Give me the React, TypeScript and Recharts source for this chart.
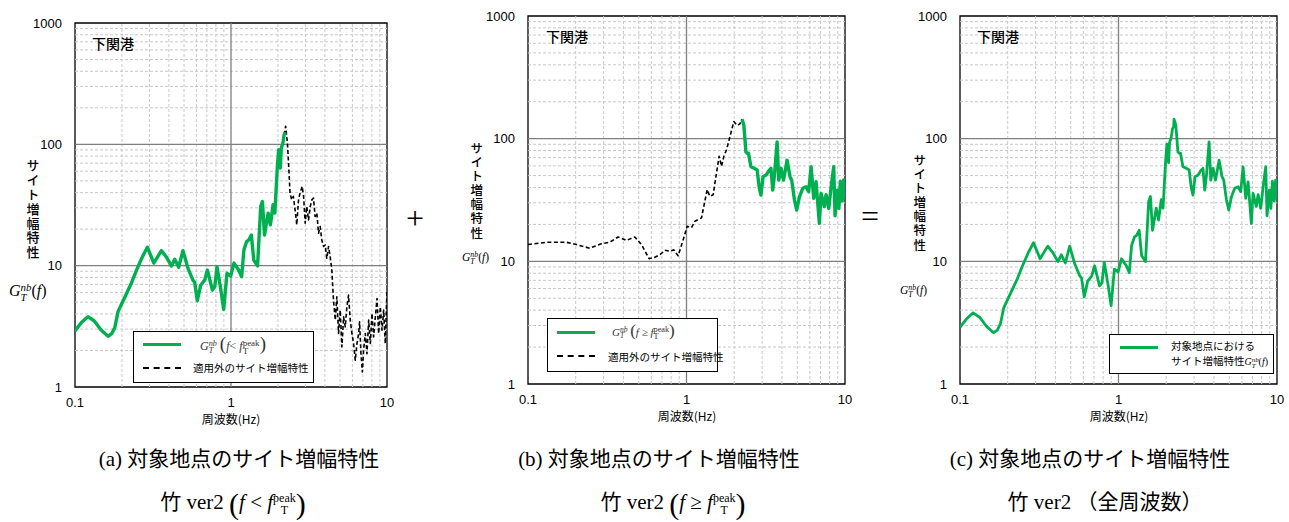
import React from 'react';
import { LineChart, Line, XAxis, YAxis, ReferenceLine, ReferenceArea } from 'recharts';

// ---- data ----
const lowFreq = [0.1, 0.11, 0.121, 0.133, 0.147, 0.163, 0.172, 0.18, 0.189, 0.2, 0.214, 0.23, 0.248, 0.27, 0.291, 0.32, 0.358, 0.385, 0.415, 0.436, 0.462, 0.492, 0.53, 0.57, 0.585, 0.608, 0.639, 0.678, 0.706, 0.76, 0.787, 0.813, 0.855, 0.898, 0.942, 0.995, 1.045, 1.12, 1.17, 1.21, 1.26, 1.3, 1.35, 1.4, 1.48, 1.55, 1.59, 1.64, 1.73, 1.79, 1.86, 1.91, 1.98, 2.02, 2.07, 2.1, 2.15, 2.19, 2.23];
const lowGain = [2.9, 3.4, 3.8, 3.5, 2.95, 2.62, 2.75, 3.1, 4.2, 4.9, 5.9, 7.2, 9.2, 11.8, 14.2, 10.5, 13.3, 11.8, 9.95, 11.3, 9.7, 13.3, 9.5, 7.6, 7.3, 5.14, 6.9, 7.6, 9.2, 6.3, 6.7, 9.8, 6.7, 4.36, 8.65, 8.2, 10.5, 9.2, 8.1, 13.5, 15.8, 16.3, 17.9, 11.1, 9.95, 30.7, 33.8, 17.9, 27.1, 21.7, 31.8, 27.1, 63.8, 90.4, 63.8, 93, 102, 120, 126];

const highFreq = [2.24, 2.3, 2.34, 2.37, 2.43, 2.46, 2.55, 2.68, 2.79, 2.88, 2.95, 3.04, 3.18, 3.3, 3.41, 3.5, 3.59, 3.73, 3.82, 3.95, 4.09, 4.2, 4.31, 4.5, 4.61, 4.8, 4.96, 5.16, 5.41, 5.68, 5.9, 6.11, 6.35, 6.57, 6.89, 7.06, 7.4, 7.6, 7.9, 8.2, 8.49, 8.65, 8.95, 9.15, 9.35, 9.6, 9.8, 10];
const highGain = [144, 129, 97, 78, 75.8, 76, 59, 57.3, 55.5, 39.4, 34.7, 48.9, 50.5, 54.7, 57.3, 38.1, 50.5, 94, 45.9, 57.3, 45.9, 55, 66.8, 49, 45.9, 31.6, 26.2, 33.6, 39.4, 40.5, 37, 59, 32.6, 44.5, 20.4, 35.8, 28, 35, 27, 42, 59, 23.5, 38, 27, 45, 31, 46, 32];

const aDashFreq = [2.19, 2.24, 2.3, 2.35, 2.39, 2.45, 2.51, 2.59, 2.64, 2.71, 2.77, 2.86, 2.92, 2.99, 3.06, 3.14, 3.22, 3.3, 3.38, 3.46, 3.55, 3.64, 3.73, 3.82, 3.92, 4.02, 4.11, 4.22, 4.32, 4.43, 4.54, 4.66, 4.77, 4.89, 5.01, 5.14, 5.27, 5.4, 5.53, 5.67, 5.81, 5.96, 6.11, 6.26, 6.42, 6.58, 6.67, 6.81, 6.95, 7.08, 7.26, 7.44, 7.63, 7.82, 8.01, 8.21, 8.42, 8.63, 8.84, 9.06, 9.29, 9.52, 9.75, 10];
const aDashGain = [120, 141, 102, 62, 39.6, 34.9, 37.2, 27.1, 21.7, 34.9, 39.6, 45, 37.2, 22.4, 30.7, 23.8, 30.7, 34.9, 36, 25.4, 27.1, 18.5, 21, 16.3, 14.4, 14.8, 11.5, 14.4, 11.9, 9.2, 5.2, 3.56, 5.55, 2.76, 4.3, 2.14, 3.79, 3.13, 4.58, 5.72, 3.56, 2.76, 2.28, 1.66, 2.28, 2.76, 3.44, 1.88, 1.33, 2.01, 2.76, 1.88, 3.56, 2.28, 4.04, 2.59, 3.79, 5.37, 2.76, 4.58, 2.94, 4.3, 2.28, 6.3];

const bDashFreq = [0.1, 0.131, 0.175, 0.202, 0.245, 0.29, 0.328, 0.37, 0.418, 0.472, 0.52, 0.581, 0.631, 0.679, 0.73, 0.785, 0.832, 0.885, 0.953, 1.01, 1.076, 1.129, 1.244, 1.286, 1.351, 1.404, 1.473, 1.546, 1.607, 1.663, 1.72, 1.79, 1.88, 1.99, 2.09, 2.17, 2.24];
const bDashGain = [13.7, 14.3, 14.3, 13.7, 12.8, 13.9, 14.3, 15.8, 14.8, 15.8, 13.7, 10.5, 10.8, 11.3, 12.3, 12.1, 12.4, 11.1, 15, 19.3, 18.8, 21.2, 22.6, 28.1, 38.4, 33.9, 34.9, 52.5, 71.8, 59.5, 71.8, 81.3, 104, 138, 128, 132, 144];

const xTicks = [0.1, 1, 10];
const yTicks = [1, 10, 100, 1000];
const minorX = [0.2, 0.3, 0.4, 0.5, 0.6, 0.7, 0.8, 0.9, 2, 3, 4, 5, 6, 7, 8, 9];
const minorY = [2, 3, 4, 5, 6, 7, 8, 9, 20, 30, 40, 50, 60, 70, 80, 90, 200, 300, 400, 500, 600, 700, 800, 900];
const majorX = [1];
const majorY = [10, 100];

const toPts = (fs: number[], gs: number[]) => fs.map((f, i) => ({ f, g: gs[i] }));
const lowPts = toPts(lowFreq, lowGain);
const highPts = toPts(highFreq, highGain);
const allPts = [...lowPts, ...highPts];
const aDashPts = toPts(aDashFreq, aDashGain);
const bDashPts = toPts(bDashFreq, bDashGain);

const GREEN = '#00b050';
const SANS = '"Liberation Sans", Arial, "Noto Sans CJK JP", sans-serif';
const JP = '"Noto Sans CJK JP", "Liberation Sans", sans-serif';
const SERIF = '"Liberation Serif", "DejaVu Serif", "Noto Sans CJK JP", serif';

type PanelProps = {
  left: number; width: number; height: number;
  margin: { top: number; right: number; bottom: number; left: number };
  yw: number;
  series: { pts: { f: number; g: number }[]; dashed?: boolean; w: number; key: string }[];
};

function Panel({ left, width, height, margin, yw, series }: PanelProps) {
  const tick = { fontFamily: SANS, fontSize: 13, fill: '#000' };
  return (
    <div style={{ position: 'absolute', left, top: 0 }}>
      <LineChart width={width} height={height} margin={margin}>
        <XAxis type="number" dataKey="f" scale="log" domain={[0.1, 10]} ticks={xTicks} allowDataOverflow
          tickLine={false} axisLine={false} tick={tick} tickMargin={5} height={30} interval={0} />
        <YAxis type="number" dataKey="g" scale="log" domain={[1, 1000]} ticks={yTicks} allowDataOverflow
          tickLine={false} axisLine={false} tick={tick} tickMargin={7} width={yw} interval={0} />
        {minorX.map((v) => (
          <ReferenceLine key={'mx' + v} x={v} stroke="#c8c8c8" strokeDasharray="3 2" strokeWidth={1} />
        ))}
        {minorY.map((v) => (
          <ReferenceLine key={'my' + v} y={v} stroke="#c8c8c8" strokeDasharray="3 2" strokeWidth={1} />
        ))}
        {majorX.map((v) => (
          <ReferenceLine key={'Mx' + v} x={v} stroke="#7f7f7f" strokeWidth={1.3} />
        ))}
        {majorY.map((v) => (
          <ReferenceLine key={'My' + v} y={v} stroke="#7f7f7f" strokeWidth={1.3} />
        ))}
        {series.map((s) => (
          <Line key={s.key} data={s.pts} dataKey="g" type="linear" stroke={s.dashed ? '#000' : GREEN}
            strokeWidth={s.w} strokeDasharray={s.dashed ? '4 2.5' : undefined} dot={false}
            isAnimationActive={false} strokeLinejoin="round" />
        ))}
        <ReferenceArea x1={0.1} x2={10} y1={1} y2={1000} fill="none" stroke="#000" strokeWidth={1.3} ifOverflow="visible" />
      </LineChart>
    </div>
  );
}

function G({ size }: { size: number }) {
  return (
    <span style={{ fontFamily: SERIF, fontStyle: 'italic', fontSize: size, whiteSpace: 'nowrap' }}>
      G
      <span style={{ display: 'inline-flex', flexDirection: 'column', fontSize: size * 0.68, lineHeight: 0.9, verticalAlign: 'middle' }}>
        <span>nb</span><span>T</span>
      </span>
    </span>
  );
}

function PeakF({ size }: { size: number }) {
  return (
    <span style={{ fontFamily: SERIF, fontSize: size, whiteSpace: 'nowrap' }}>
      <i>f</i>
      <span style={{ display: 'inline-flex', flexDirection: 'column', fontSize: size * 0.75, lineHeight: 0.95, verticalAlign: 'middle', fontStyle: 'normal' }}>
        <span>peak</span><span>T</span>
      </span>
    </span>
  );
}

function YLabel({ x, y, size, ls, gx, gy, gsize }: { x: number; y: number; size: number; ls: number; gx: number; gy: number; gsize: number }) {
  return (
    <>
      <div style={{ position: 'absolute', left: x - size / 2, top: y, fontFamily: JP, fontSize: size, lineHeight: `${size}px`, fontWeight: 500, writingMode: 'vertical-rl', textOrientation: 'upright', letterSpacing: ls, whiteSpace: 'nowrap' }}>
        サイト増幅特性
      </div>
      <div style={{ position: 'absolute', left: gx, top: gy, lineHeight: 1 }}>
        <G size={gsize} /><span style={{ fontFamily: SERIF, fontSize: gsize }}>(<i>f</i>)</span>
      </div>
    </>
  );
}

function abs(l: number, t: number, extra: React.CSSProperties = {}): React.CSSProperties {
  return { position: 'absolute', left: l, top: t, ...extra };
}

export default function App() {
  const titleStyle: React.CSSProperties = { fontFamily: JP, fontSize: 14, fontWeight: 500, lineHeight: '16px' };
  const xlab: React.CSSProperties = { fontFamily: JP, fontSize: 12, lineHeight: '12px', width: 120, textAlign: 'center' };
  const cap: React.CSSProperties = { fontFamily: SERIF, fontSize: 21, lineHeight: '24px', width: 420, textAlign: 'center', whiteSpace: 'nowrap' };
  const legText: React.CSSProperties = { fontFamily: JP, fontSize: 10.5, lineHeight: '12px', whiteSpace: 'nowrap' };
  const bigParen: React.CSSProperties = { fontSize: 30, verticalAlign: 'middle', fontWeight: 200 };
  return (
    <div style={{ position: 'absolute', left: 0, top: 0, width: 1289, height: 522, background: '#fff', overflow: 'hidden' }}>
      <Panel left={0} width={400} height={420} margin={{ top: 23, right: 13, bottom: 3, left: 0 }} yw={75}
        series={[{ key: 'ad', pts: aDashPts, dashed: true, w: 1.6 }, { key: 'al', pts: lowPts, w: 3.4 }]} />
      <Panel left={450} width={410} height={420} margin={{ top: 16, right: 15, bottom: 6, left: 0 }} yw={78}
        series={[{ key: 'bd', pts: bDashPts, dashed: true, w: 1.6 }, { key: 'bh', pts: highPts, w: 3.4 }]} />
      <Panel left={880} width={409} height={420} margin={{ top: 16, right: 12, bottom: 6, left: 0 }} yw={80}
        series={[{ key: 'c', pts: allPts, w: 2.8 }]} />

      {/* titles */}
      <div style={abs(92, 35, titleStyle)}>下関港</div>
      <div style={abs(546, 28, titleStyle)}>下関港</div>
      <div style={abs(977, 28, titleStyle)}>下関港</div>

      {/* y labels */}
      <YLabel x={33} y={159} size={13} ls={1.4} gx={9} gy={283} gsize={16} />
      <YLabel x={476} y={142} size={12.5} ls={1.6} gx={462} gy={248} gsize={11.5} />
      <YLabel x={919} y={154} size={12.5} ls={1.6} gx={900} gy={281} gsize={11.5} />

      {/* x labels */}
      <div style={abs(171, 413, xlab)}>周波数(Hz)</div>
      <div style={abs(627, 410, xlab)}>周波数(Hz)</div>
      <div style={abs(1059, 410, xlab)}>周波数(Hz)</div>

      {/* legend a */}
      <div style={abs(133, 331, { width: 181, height: 52, border: '1.3px solid #000', background: '#fff', boxSizing: 'border-box' })}>
        <div style={abs(9, 11, { width: 38, height: 3.4, background: GREEN })} />
        <div style={abs(66, 1, { fontFamily: SERIF, fontSize: 12, color: '#333', whiteSpace: 'nowrap' })}>
          <G size={12} /> <span style={{ fontSize: 19, fontWeight: 200 }}>(</span><i>f</i>&lt; <PeakF size={12} /><span style={{ fontSize: 19, fontWeight: 200 }}>)</span>
        </div>
        <div style={abs(9, 35, { width: 38, borderTop: '2px dashed #000' })} />
        <div style={abs(59, 30, legText)}>適用外のサイト増幅特性</div>
      </div>

      {/* legend b */}
      <div style={abs(547, 318, { width: 171, height: 54, border: '1.3px solid #000', background: '#fff', boxSizing: 'border-box' })}>
        <div style={abs(9, 12, { width: 38, height: 3.4, background: GREEN })} />
        <div style={abs(64, 2, { fontFamily: SERIF, fontSize: 11, color: '#333', whiteSpace: 'nowrap' })}>
          <G size={11} /> <span style={{ fontSize: 17, fontWeight: 200 }}>(</span><i>f</i> ≥ <PeakF size={11} /><span style={{ fontSize: 17, fontWeight: 200 }}>)</span>
        </div>
        <div style={abs(9, 36, { width: 38, borderTop: '2px dashed #000' })} />
        <div style={abs(60, 32, legText)}>適用外のサイト増幅特性</div>
      </div>

      {/* legend c */}
      <div style={abs(1109, 334, { width: 165, height: 40, border: '1.3px solid #000', background: '#fff', boxSizing: 'border-box' })}>
        <div style={abs(10, 11, { width: 38, height: 3, background: GREEN })} />
        <div style={abs(61, 5, legText)}>対象地点における</div>
        <div style={abs(61, 20, legText)}>
          サイト増幅特性<G size={10} /><span style={{ fontFamily: SERIF, fontSize: 10 }}>(<i>f</i>)</span>
        </div>
      </div>

      {/* operators */}
      <div style={abs(406, 200, { fontFamily: SERIF, fontSize: 32, lineHeight: '36px' })}>+</div>
      <div style={abs(861, 198, { fontFamily: SERIF, fontSize: 32, lineHeight: '36px' })}>=</div>

      {/* captions */}
      <div style={abs(29, 447, cap)}>(a) 対象地点のサイト増幅特性</div>
      <div style={abs(449, 447, cap)}>(b) 対象地点のサイト増幅特性</div>
      <div style={abs(880, 447, cap)}>(c) 対象地点のサイト増幅特性</div>

      <div style={abs(23, 490, cap)}>竹 ver2 <span style={bigParen}>(</span><PeakFull sym="<" /><span style={bigParen}>)</span></div>
      <div style={abs(463, 490, cap)}>竹 ver2 <span style={bigParen}>(</span><PeakFull sym="≥" /><span style={bigParen}>)</span></div>
      <div style={abs(895, 490, cap)}>竹 ver2 （全周波数）</div>
    </div>
  );
}

function PeakFull({ sym }: { sym: string }) {
  return (
    <span style={{ fontFamily: SERIF, fontSize: 21 }}>
      <i>f</i> {sym} <i>f</i>
      <span style={{ display: 'inline-flex', flexDirection: 'column', fontSize: 12, lineHeight: 1.0, verticalAlign: 'middle' }}>
        <span>peak</span><span>T</span>
      </span>
    </span>
  );
}
